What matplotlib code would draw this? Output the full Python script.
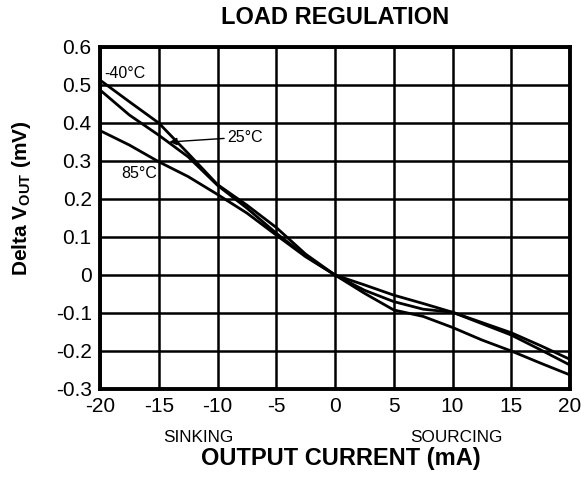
import matplotlib
matplotlib.use("Agg")
import matplotlib.pyplot as plt

plt.rcParams['font.family'] = ['Liberation Sans', 'DejaVu Sans']
plt.rcParams['mathtext.fontset'] = 'custom'
plt.rcParams['mathtext.bf'] = 'Liberation Sans:bold'
plt.rcParams['mathtext.rm'] = 'Liberation Sans'

current_ma = [-20, -17.5, -15, -12.5, -10, -7.5, -5, -2.5, 0, 2.5, 5, 7.5, 10, 12.5, 15, 17.5, 20]
dv_m40 = [0.513, 0.456, 0.40, 0.32, 0.238, 0.184, 0.125, 0.055, 0, -0.026, -0.053, -0.075, -0.098, -0.125, -0.152, -0.186, -0.222]
dv_25 = [0.487, 0.421, 0.368, 0.311, 0.236, 0.176, 0.11, 0.05, 0, -0.04, -0.07, -0.09, -0.098, -0.128, -0.158, -0.197, -0.237]
dv_85 = [0.38, 0.342, 0.298, 0.259, 0.212, 0.163, 0.105, 0.048, 0, -0.048, -0.092, -0.109, -0.138, -0.171, -0.2, -0.232, -0.263]

xticks = [-20, -15, -10, -5, 0, 5, 10, 15, 20]
yticks = [-0.3, -0.2, -0.1, 0, 0.1, 0.2, 0.3, 0.4, 0.5, 0.6]
ytick_labels = ['-0.3', '-0.2', '-0.1', '0', '0.1', '0.2', '0.3', '0.4', '0.5', '0.6']

fig = plt.figure(figsize=(5.81, 4.79), dpi=100)
W, H = 581, 479
ax = fig.add_axes([100 / W, 1 - 389 / H, 470 / W, 342 / H])

for y in (dv_m40, dv_25, dv_85):
    ax.plot(current_ma, y, color='black', lw=2.0, solid_joinstyle='round')

ax.set_xlim(-20, 20)
ax.set_ylim(-0.3, 0.6)
ax.set_xticks(xticks)
ax.set_xticklabels([str(t) for t in xticks])
ax.set_yticks(yticks)
ax.set_yticklabels(ytick_labels)
ax.grid(True, color='black', lw=1.8)
ax.set_axisbelow(True)
for s in ax.spines.values():
    s.set_linewidth(2.8)
ax.tick_params(length=0, labelsize=15, pad=6)

ax.text(-19.6, 0.53, '-40°C', fontsize=11.5, ha='left', va='center')
ax.text(-15.1, 0.268, '85°C', fontsize=11.5, ha='right', va='center')
ax.annotate('25°C', xy=(-14.1, 0.35), xytext=(-9.2, 0.363), fontsize=11.5,
            ha='left', va='center',
            arrowprops=dict(arrowstyle='-|>', color='black', lw=1.0, mutation_scale=11,
                            shrinkA=0, shrinkB=0))

fig.text(335 / W, 1 - 18 / H, 'LOAD REGULATION', fontsize=17, fontweight='bold', ha='center', va='center')
fig.text(198 / W, 1 - 437 / H, 'SINKING', fontsize=12.3, ha='center', va='center')
fig.text(456 / W, 1 - 437 / H, 'SOURCING', fontsize=12.3, ha='center', va='center')
fig.text(341 / W, 1 - 458 / H, 'OUTPUT CURRENT (mA)', fontsize=17, fontweight='bold', ha='center', va='center')
fig.text(22 / W, 1 - 198 / H, r'Delta V$_{\mathbf{OUT}}$ (mV)', fontsize=15, fontweight='bold',
         rotation=90, ha='center', va='center')

fig.savefig('out.png', dpi=100)
